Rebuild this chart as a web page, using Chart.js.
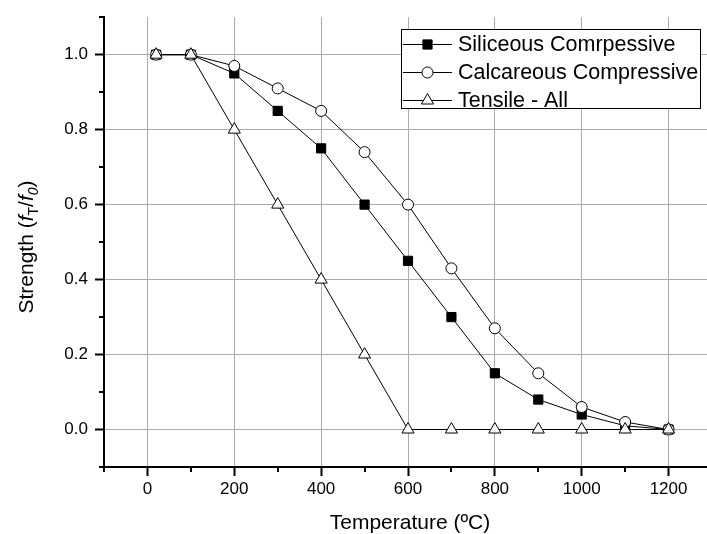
<!DOCTYPE html>
<html>
<head>
<meta charset="utf-8">
<title>Concrete strength vs temperature</title>
<script src="https://cdn.jsdelivr.net/npm/chart.js@4/dist/chart.umd.min.js"></script>
<style>
  html, body { margin: 0; padding: 0; background: #ffffff; overflow: hidden; }
  #wrap { width: 707px; height: 534px; overflow: hidden; }
  canvas { display: block; }
</style>
</head>
<body>
<div id="wrap"><canvas id="chart" width="720" height="534"></canvas></div>
<script>
// Temperature (ºC)
const temperatures = [20, 100, 200, 300, 400, 500, 600, 700, 800, 900, 1000, 1100, 1200];

// Strength reduction factors f_T / f_0
const siliceousCompressive = [1.0, 1.0, 0.95, 0.85, 0.75, 0.60, 0.45, 0.30, 0.15, 0.08, 0.04, 0.01, 0.0];
const calcareousCompressive = [1.0, 1.0, 0.97, 0.91, 0.85, 0.74, 0.60, 0.43, 0.27, 0.15, 0.06, 0.02, 0.0];
const tensileAll = [1.0, 1.0, 0.8, 0.6, 0.4, 0.2, 0.0, 0.0, 0.0, 0.0, 0.0, 0.0, 0.0];

const seriesLabels = ['Siliceous Comrpessive', 'Calcareous Compressive', 'Tensile - All'];

// Axis tick values with labels
const xTickLabels = ['0', '200', '400', '600', '800', '1000', '1200'];
const yTickLabels = ['0.0', '0.2', '0.4', '0.6', '0.8', '1.0'];

const xTitle = 'Temperature (ºC)';

const FONT = '"Liberation Sans", Arial, Helvetica, sans-serif';
const GRID = '#ababab';

function pts(values) {
  return temperatures.map((t, i) => ({ x: t, y: values[i] }));
}

const isMajorX = v => xTickLabels.includes(String(Math.round(v)));
const isMajorY = v => yTickLabels.includes((Math.round(v * 10) / 10).toFixed(1));

// Short minor ticks, axis titles (with italic/subscript) and the framed legend
const decorations = {
  id: 'decorations',
  afterDraw(chart) {
    const ctx = chart.ctx;
    const xs = chart.scales.x, ys = chart.scales.y;
    const area = chart.chartArea;
    ctx.save();

    // minor ticks
    ctx.strokeStyle = '#000';
    ctx.lineWidth = 2;
    ctx.beginPath();
    xs.ticks.forEach(t => {
      if (!isMajorX(t.value)) {
        const px = Math.round(xs.getPixelForValue(t.value));
        ctx.moveTo(px, area.bottom);
        ctx.lineTo(px, area.bottom + 5);
      }
    });
    ys.ticks.forEach(t => {
      if (!isMajorY(t.value)) {
        const py = Math.round(ys.getPixelForValue(t.value));
        ctx.moveTo(area.left, py);
        ctx.lineTo(area.left - 5, py);
      }
    });
    ctx.stroke();

    // x axis title
    ctx.fillStyle = '#000';
    ctx.font = '21px ' + FONT;
    ctx.textAlign = 'center';
    ctx.textBaseline = 'alphabetic';
    ctx.fillText(xTitle, 410, 529);

    // y axis title: Strength (f_T/f_0)
    const parts = [
      { t: 'Strength (', f: '21px ' + FONT, dy: 0 },
      { t: 'f', f: 'italic 21px ' + FONT, dy: 0 },
      { t: 'T', f: '14px ' + FONT, dy: 5 },
      { t: '/', f: '21px ' + FONT, dy: 0 },
      { t: 'f', f: 'italic 21px ' + FONT, dy: 0 },
      { t: '0', f: 'italic 14px ' + FONT, dy: 5 },
      { t: ')', f: '21px ' + FONT, dy: 0 }
    ];
    let total = 0;
    parts.forEach(p => { ctx.font = p.f; p.w = ctx.measureText(p.t).width; total += p.w; });
    ctx.save();
    ctx.translate(33, 247);
    ctx.rotate(-Math.PI / 2);
    ctx.textAlign = 'left';
    let cx = -total / 2;
    parts.forEach(p => {
      ctx.font = p.f;
      ctx.fillText(p.t, cx, p.dy);
      cx += p.w;
    });
    ctx.restore();

    // legend
    const box = { x: 401.5, y: 29.5, w: 299, h: 79 };
    ctx.fillStyle = '#fff';
    ctx.fillRect(box.x, box.y, box.w, box.h);
    ctx.strokeStyle = '#000';
    ctx.lineWidth = 1;
    ctx.strokeRect(box.x, box.y, box.w, box.h);
    const rowY = [44, 72, 100];
    chart.data.datasets.forEach((ds, i) => {
      const y = rowY[i];
      ctx.beginPath();
      ctx.strokeStyle = '#000';
      ctx.lineWidth = 1;
      ctx.moveTo(403, y + 0.5);
      ctx.lineTo(452, y + 0.5);
      ctx.stroke();
      ctx.fillStyle = ds.pointBackgroundColor;
      ctx.strokeStyle = ds.pointBorderColor;
      ctx.lineWidth = 1;
      Chart.helpers.drawPoint(ctx, {
        pointStyle: ds.pointStyle, radius: ds.pointRadius, rotation: 0, borderWidth: 1
      }, 427.5, y + 0.5);
      ctx.fillStyle = '#000';
      ctx.font = '21.5px ' + FONT;
      ctx.textAlign = 'left';
      ctx.textBaseline = 'middle';
      ctx.fillText(ds.label, 458, y + 1);
    });

    ctx.restore();
  }
};

const lineStyle = {
  borderColor: '#000',
  borderWidth: 1,
  pointBorderColor: '#000',
  pointBorderWidth: 1,
  pointHoverRadius: 0,
  tension: 0,
  fill: false
};

new Chart(document.getElementById('chart'), {
  type: 'line',
  data: {
    datasets: [
      Object.assign({}, lineStyle, {
        label: seriesLabels[0], data: pts(siliceousCompressive),
        pointStyle: 'rect', pointRadius: 6.5, pointBackgroundColor: '#000', order: 2
      }),
      Object.assign({}, lineStyle, {
        label: seriesLabels[1], data: pts(calcareousCompressive),
        pointStyle: 'circle', pointRadius: 5.5, pointBackgroundColor: '#fff', order: 1
      }),
      Object.assign({}, lineStyle, {
        label: seriesLabels[2], data: pts(tensileAll),
        pointStyle: 'triangle', pointRadius: 7, pointBackgroundColor: '#fff', order: 0
      })
    ]
  },
  options: {
    responsive: false,
    animation: false,
    events: [],
    layout: { padding: { top: 11, right: 4, left: 0, bottom: 0 } },
    plugins: { legend: { display: false }, tooltip: { enabled: false }, title: { display: false } },
    scales: {
      x: {
        type: 'linear',
        min: -100, max: 1300,
        afterFit(scale) { scale.height = 67; },
        border: { display: true, color: '#000', width: 2 },
        grid: {
          drawOnChartArea: true,
          drawTicks: true,
          tickLength: 9,
          lineWidth: 1,
          tickWidth: 2,
          color: c => isMajorX(c.tick.value) ? GRID : 'rgba(0,0,0,0)',
          tickColor: c => isMajorX(c.tick.value) ? '#000' : 'rgba(0,0,0,0)'
        },
        ticks: {
          stepSize: 100,
          autoSkip: false,
          maxRotation: 0,
          padding: 3,
          color: '#000',
          font: { family: FONT, size: 17 },
          callback: v => isMajorX(v) ? String(Math.round(v)) : ''
        }
      },
      y: {
        type: 'linear',
        min: -0.1, max: 1.1,
        afterFit(scale) { scale.width = 104; },
        border: { display: true, color: '#000', width: 2 },
        grid: {
          drawOnChartArea: true,
          drawTicks: true,
          tickLength: 9,
          lineWidth: 1,
          tickWidth: 2,
          color: c => isMajorY(c.tick.value) ? GRID : 'rgba(0,0,0,0)',
          tickColor: c => isMajorY(c.tick.value) ? '#000' : 'rgba(0,0,0,0)'
        },
        ticks: {
          stepSize: 0.1,
          autoSkip: false,
          padding: 7,
          color: '#000',
          font: { family: FONT, size: 17 },
          callback: v => isMajorY(v) ? (Math.round(v * 10) / 10).toFixed(1) : ''
        }
      }
    }
  },
  plugins: [decorations]
});
</script>
</body>
</html>
